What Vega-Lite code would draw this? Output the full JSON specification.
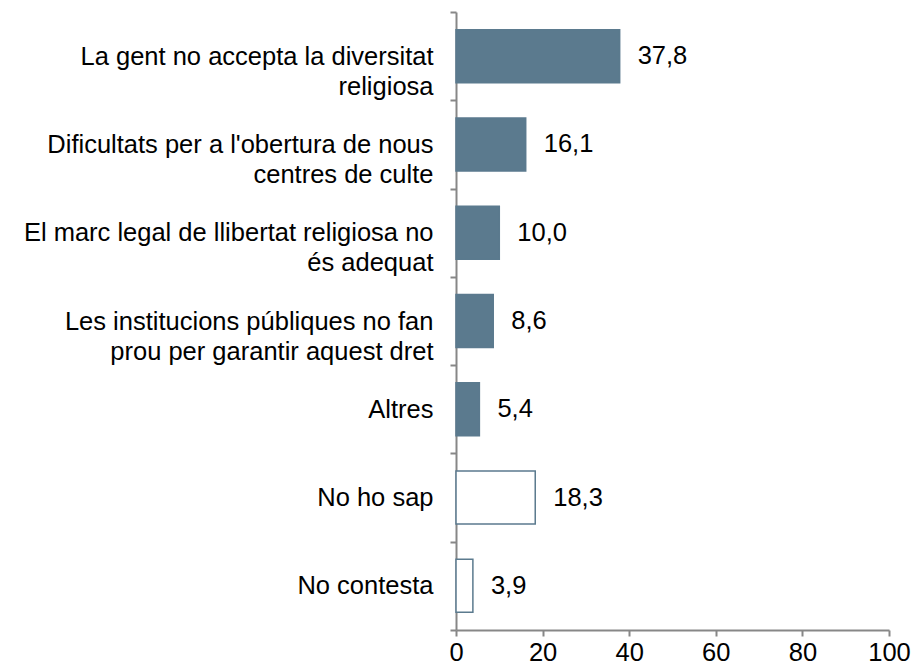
{
  "$schema": "https://vega.github.io/schema/vega-lite/v6.json",
  "autosize": {"type": "none"},
  "padding": {"left": 456, "top": 12, "right": 23, "bottom": 35},
  "width": 433,
  "height": 618,
  "background": "white",
  "config": {
    "view": {"stroke": null},
    "font": "Liberation Sans",
    "locale": {"number": {"decimal": ",", "thousands": ".", "grouping": [3], "currency": ["", " €"]}}
  },
  "data": {
    "values": [
      {"motiu": "La gent no accepta la diversitat\nreligiosa", "percentatge": 37.8, "grup": "Resposta"},
      {"motiu": "Dificultats per a l'obertura de nous\ncentres de culte", "percentatge": 16.1, "grup": "Resposta"},
      {"motiu": "El marc legal de llibertat religiosa no\nés adequat", "percentatge": 10.0, "grup": "Resposta"},
      {"motiu": "Les institucions públiques no fan\nprou per garantir aquest dret", "percentatge": 8.6, "grup": "Resposta"},
      {"motiu": "Altres", "percentatge": 5.4, "grup": "Resposta"},
      {"motiu": "No ho sap", "percentatge": 18.3, "grup": "NS/NC"},
      {"motiu": "No contesta", "percentatge": 3.9, "grup": "NS/NC"}
    ]
  },
  "encoding": {
    "y": {
      "field": "motiu",
      "type": "nominal",
      "sort": null,
      "scale": {"paddingInner": 0, "paddingOuter": 0},
      "axis": {
        "title": null,
        "labelExpr": "split(datum.label, '\\n')",
        "labelFontSize": 25.5,
        "labelColor": "#000000",
        "labelAlign": "right",
        "labelPadding": 17,
        "labelLineHeight": 30,
        "labelLimit": 0,
        "tickBand": "extent",
        "tickSize": 6,
        "tickWidth": 2,
        "tickColor": "#878787",
        "domainColor": "#878787",
        "domainWidth": 2
      }
    }
  },
  "layer": [
    {
      "mark": {"type": "bar", "height": {"band": 0.6}, "stroke": "#5B7A8E", "strokeWidth": 1.5},
      "encoding": {
        "x": {
          "field": "percentatge",
          "type": "quantitative",
          "scale": {"domain": [0, 100], "nice": false},
          "axis": {
            "title": null,
            "values": [0, 20, 40, 60, 80, 100],
            "format": "d",
            "grid": false,
            "labelFontSize": 25.5,
            "labelColor": "#000000",
            "labelPadding": 4,
            "labelFlush": false,
            "tickSize": 6,
            "tickWidth": 2,
            "tickColor": "#878787",
            "domainColor": "#878787",
            "domainWidth": 2
          }
        },
        "fill": {
          "field": "grup",
          "type": "nominal",
          "scale": {"domain": ["Resposta", "NS/NC"], "range": ["#5B7A8E", "#FFFFFF"]},
          "legend": null
        }
      }
    },
    {
      "mark": {"type": "text", "align": "left", "baseline": "middle", "dx": 18, "fontSize": 25.5, "color": "#000000"},
      "encoding": {
        "x": {"field": "percentatge", "type": "quantitative"},
        "text": {"field": "percentatge", "type": "quantitative", "format": ".1f"}
      }
    }
  ]
}
